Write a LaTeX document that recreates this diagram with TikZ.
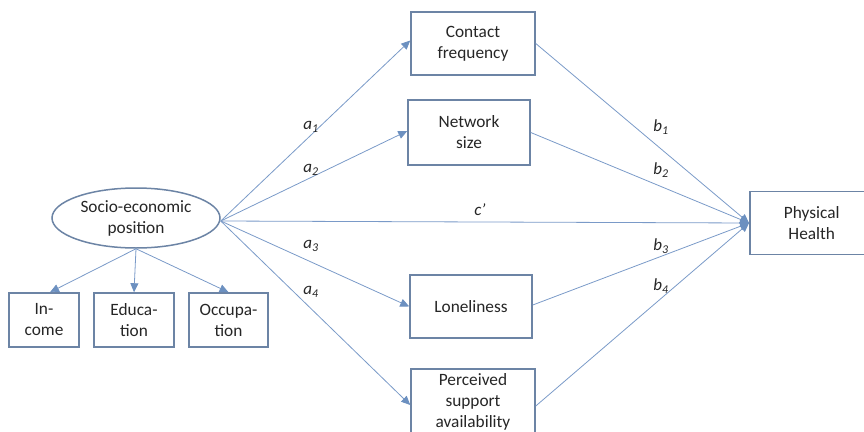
\documentclass[tikz,border=0pt]{standalone}
\usepackage{fontspec}
\setmainfont{Carlito}
\usetikzlibrary{arrows.meta,shapes.geometric}
\definecolor{boxc}{RGB}{108,132,165}
\definecolor{linec}{RGB}{122,154,200}
\definecolor{headc}{RGB}{108,144,192}
\definecolor{txt}{RGB}{38,38,38}
\tikzset{
  var/.style={draw=boxc, line width=1.5pt, fill=white, text=txt, align=center,
    font=\fontsize{17.3}{21}\selectfont, inner sep=1pt},
  lat/.style={var, ellipse, minimum width=168pt, minimum height=60pt},
  conn/.style={draw=linec, line width=0.8pt, -{Triangle[width=8pt,length=9pt,fill=headc,color=headc]}},
  coef/.style={text=txt, font=\fontsize{17}{21}\selectfont\itshape, inner sep=0pt}
}
\newcommand{\coefsub}[2]{#1\textsubscript{#2}}
\begin{document}
\begin{tikzpicture}[x=1pt,y=-1pt]
\useasboundingbox (0,0) rectangle (864,431);
% nodes
\node[lat] (sep) at (136,218) {Socio-economic\\position};
\node[var, minimum width=70pt, minimum height=54pt] (inc) at (44,320) {In-\\come};
\node[var, minimum width=80pt, minimum height=54pt] (edu) at (134,320) {Educa-\\tion};
\node[var, minimum width=79pt, minimum height=54pt] (occ) at (228.5,320) {Occupa-\\tion};
\node[var, minimum width=124pt, minimum height=63pt] (cf) at (473,43.5) {Contact\\frequency};
\node[var, minimum width=122pt, minimum height=65pt] (ns) at (469,132.5) {Network\\size};
\node[var, minimum width=122pt, minimum height=63pt] (lon) at (471,306.5) {Loneliness};
\node[var, minimum width=124pt, minimum height=66pt] (psa) at (473,402) {Perceived\\support\\availability};
\node[var, minimum width=124pt, minimum height=63pt, anchor=west] (ph) at (749,223) {Physical\\Health};
% coordinates for connector ends
\coordinate (src) at ([yshift=-3pt]sep.east);
\coordinate (phin) at (ph.west);
% measurement arrows
\draw[conn] (sep.south) -- ([xshift=6pt]inc.north);
\draw[conn] (sep.south) -- (edu.north);
\draw[conn] (sep.south) -- (occ.north);
% a paths
\draw[conn] (src) -- ([yshift=3pt]cf.west);
\draw[conn] (src) -- ([yshift=1.5pt]ns.west);
\draw[conn] (src) -- (lon.west);
\draw[conn] (src) -- ([yshift=-3pt]psa.west);
% c'
\draw[conn] (src) -- (phin);
% b paths
\draw[conn] (cf.east) -- (phin);
\draw[conn] (ns.east) -- (phin);
\draw[conn] ([yshift=1.5pt]lon.east) -- (phin);
\draw[conn] ([yshift=-4pt]psa.east) -- (phin);
% labels
\node[coef] (la1) at (311,127) {\coefsub{a}{1}};
\node[coef] (la2) at (311,170) {\coefsub{a}{2}};
\node[coef] (la3) at (311,246) {\coefsub{a}{3}};
\node[coef] (la4) at (311,292) {\coefsub{a}{4}};
\node[coef] (lc) at (480,210) {c’};
\node[coef] (lb1) at (661,127) {\coefsub{b}{1}};
\node[coef] (lb2) at (661,170) {\coefsub{b}{2}};
\node[coef] (lb3) at (661,246) {\coefsub{b}{3}};
\node[coef] (lb4) at (661,286) {\coefsub{b}{4}};
\end{tikzpicture}
\end{document}
